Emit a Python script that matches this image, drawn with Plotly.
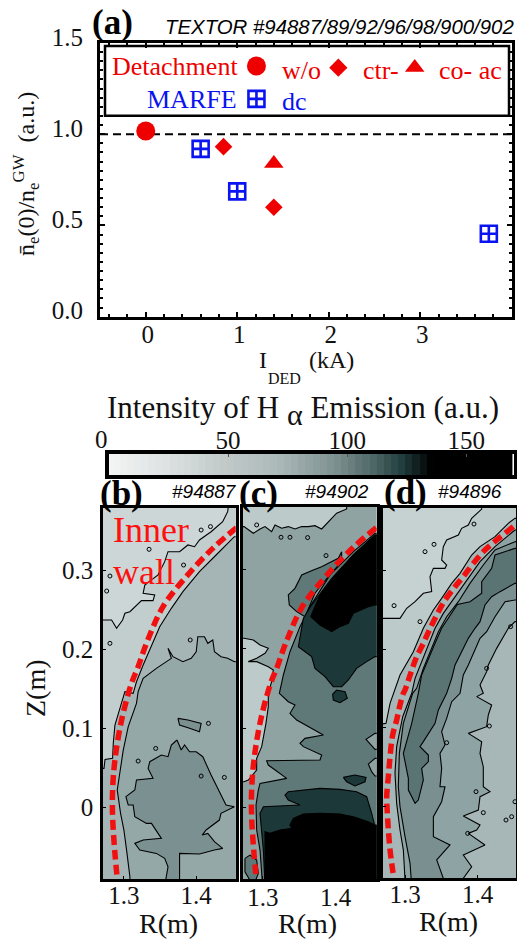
import plotly.graph_objects as go

W, H = 517, 939
SERIF = "Liberation Serif"
SANS = "Liberation Sans"
RED = "#ee0000"
BLUE = "#0a14f0"

# ---- panel (a) data ----
detach_wo_I = [0.0]
detach_wo_n = [1.018]
detach_ctr_I = [0.85, 1.40]
detach_ctr_n = [0.932, 0.60]
detach_co_I = [1.40]
detach_co_n = [0.84]
marfe_dc_I = [0.60, 1.00, 3.75]
marfe_dc_n = [0.92, 0.687, 0.455]
gw_limit_I = [-0.5, 4.0]
gw_limit_n = [1.0, 1.0]
a_xticks = [0, 1, 2, 3, 4]
a_yticks = [0.0, 0.5, 1.0, 1.5]
a_yticktext = ["0.0", "0.5", "1.0", "1.5"]

# ---- colour bar ----
bar_levels = list(range(0, 171, 3))
bar_colors = [[0, "#f4f4f4"], [0.14, "#dde2e2"], [0.29, "#c0c8c8"], [0.41, "#aebbbb"],
              [0.56, "#7d9090"], [0.65, "#4f6868"], [0.73, "#1f3a3a"], [0.795, "#000000"], [1, "#000000"]]
bar_ticks = [50, 100, 150]

# ---- inner wall traces ----
wall = [(1.4559, .3536), (1.4229, .3274), (1.3862, .2916), (1.3541, .2536), (1.3312, .2072), (1.3197, .1776),
        (1.3105, .1565), (1.2968, .1101), (1.2876, .0595), (1.2844, .0215), (1.2844, -.0123), (1.2876, -.0587),
        (1.2908, -.0903)]
wall_d = [(1.4490, .3549), (1.4261, .3380), (1.4100, .3253), (1.3940, .3084), (1.3802, .2916), (1.3688, .2789),
          (1.3550, .2620), (1.3436, .2430), (1.3335, .2240), (1.3252, .2072), (1.3151, .1882), (1.3078, .1692),
          (1.3000, .1481), (1.2977, .1439), (1.2931, .1291), (1.2885, .1101), (1.2830, .0911), (1.2794, .0637),
          (1.2771, .0384), (1.2748, .0131), (1.2757, -.0080), (1.2771, -.0291), (1.2794, -.0545), (1.2817, -.0713),
          (1.2840, -.0861)]

panel_rect = [(1.26, -.1), (1.47, -.1), (1.47, .39), (1.26, .39)]

# ---- panel (b) contour regions ----
b_l1 = [(1.4458, .39), (1.4435, .3739), (1.4366, .3612), (1.4206, .3485), (1.4045, .3380), (1.3977, .3295),
        (1.3885, .3317), (1.3770, .3232), (1.3610, .3232), (1.3564, .3106), (1.3472, .2937), (1.3289, .2810),
        (1.3266, .2705), (1.3426, .2684), (1.3403, .2612), (1.3243, .2612), (1.3083, .2473), (1.3014, .2452),
        (1.2982, .2367), (1.2899, .2262), (1.2830, .2367), (1.2725, .2367), (1.26, .2367), (1.26, -.1),
        (1.47, -.1), (1.47, .39)]
b_l2 = [(1.47, .3422), (1.4527, .3422), (1.4275, .3190), (1.4045, .2979), (1.3816, .2726), (1.3656, .2515),
        (1.3495, .2283), (1.3381, .2051), (1.3266, .1797), (1.3174, .1586), (1.3128, .1439), (1.3014, .1460),
        (1.2876, .1038), (1.2853, .0806), (1.2844, .0616), (1.2739, .0603), (1.2725, .0489), (1.26, .0489),
        (1.26, -.1), (1.47, -.1)]
b_l3 = [(1.47, .1840), (1.4527, .1840), (1.4435, .1882), (1.4343, .1903), (1.4252, .1966), (1.4229, .2114),
        (1.4160, .2072), (1.4114, .2156), (1.4022, .2156), (1.4000, .1966), (1.3931, .1882), (1.3816, .1840),
        (1.3679, .1903), (1.3610, .2008), (1.3656, .1882), (1.3449, .1755), (1.3266, .1629), (1.3197, .1460),
        (1.3174, .1312), (1.3060, .1017), (1.2991, .0721), (1.2945, .0468), (1.2908, .0215), (1.2954, -.0080),
        (1.3000, -.0291), (1.3037, -.0545), (1.3060, -.0713), (1.3083, -.0882), (1.3083, -.1), (1.47, -.1)]
b_core = [(1.3734, .0848), (1.3793, .0721), (1.3839, .0785), (1.3908, .0700), (1.4000, .0700), (1.4091, .0637),
          (1.4206, .0405), (1.4298, .0236), (1.4412, .0025), (1.4527, .0004), (1.4343, -.0080), (1.4320, -.0165),
          (1.4137, -.0291), (1.4082, -.0355), (1.4160, -.0334), (1.4252, -.0439), (1.4366, -.0523), (1.4252, -.0545),
          (1.4045, -.0595), (1.3770, -.0587), (1.3770, -.1), (1.3564, -.1), (1.3610, -.0756), (1.3564, -.0650),
          (1.3449, -.0587), (1.3220, -.0545), (1.3151, -.0460), (1.3266, -.0418), (1.3518, -.0397), (1.3381, -.0207),
          (1.3312, -.0207), (1.3151, -.0123), (1.3128, .0025), (1.3060, .0025), (1.3028, .0131), (1.3151, .0215),
          (1.3174, .0342), (1.3403, .0363), (1.3335, .0489), (1.3358, .0574), (1.3518, .0658), (1.3610, .0637),
          (1.3656, .0785)]
b_spot = [(1.3747, .1122), (1.3885, .1101), (1.4068, .1059), (1.4045, .0954), (1.3908, .0996), (1.3770, .1038)]
b_islands = [(1.3348, .3262), (1.3825, .3063), (1.4068, .3506), (1.4197, .3549), (1.2807, .2924), (1.2807, .2072),
             (1.3917, .2114), (1.2762, .2734), (1.3197, .0582), (1.3440, .0742), (1.4068, .0392), (1.4169, .1059),
             (1.4389, .0375)]

# ---- panel (c) contour regions ----
c_top = [(1.4151, .39), (1.4151, .3772), (1.4013, .3718), (1.3899, .3612), (1.3807, .3519), (1.3715, .3561),
         (1.3624, .3549), (1.3532, .3549), (1.3440, .3519), (1.3348, .3549), (1.3257, .3528), (1.3165, .3570),
         (1.3119, .3485), (1.3028, .3549), (1.2959, .3519), (1.2867, .3464), (1.2775, .3528), (1.2739, .3549),
         (1.26, .3549), (1.26, .39)]
c_left = [(1.26, .2135), (1.2739, .2135), (1.2867, .2114), (1.2959, .2051), (1.3073, .2008), (1.3028, .1945),
          (1.2913, .1882), (1.2798, .1840), (1.2913, .1840), (1.3073, .1776), (1.3142, .1734), (1.3119, .1586),
          (1.3073, .1439), (1.3073, .1270), (1.3041, .1059), (1.2982, .0764), (1.2913, .0616), (1.2913, .0468),
          (1.2798, .0342), (1.2739, .0320), (1.26, .0320)]
c_mid = [(1.47, .3464), (1.4541, .3464), (1.4243, .3232), (1.3922, .2937), (1.3646, .2536), (1.3509, .2283),
         (1.3371, .1966), (1.3280, .1671), (1.3225, .1439), (1.3348, .1333), (1.3440, .1291), (1.3371, .1186),
         (1.3463, .1101), (1.3784, .0932), (1.3830, .0911), (1.3578, .0869), (1.3509, .0806), (1.3555, .0764),
         (1.3807, .0658), (1.3784, .0595), (1.3050, .0586), (1.3073, .0531), (1.3326, .0363), (1.2959, .0299),
         (1.2936, .0215), (1.2904, .0025), (1.2913, -.0291), (1.2959, -.0545), (1.2995, -.1), (1.47, -.1)]
c_lobe = [(1.4082, .3232), (1.4036, .3148), (1.3899, .3084), (1.3807, .3042), (1.3692, .3000), (1.3532, .2937),
          (1.3440, .2768), (1.3348, .2684), (1.3362, .2557), (1.3463, .2473), (1.3578, .2409), (1.3715, .2705),
          (1.3899, .2916), (1.4082, .3106)]
c_right1 = [(1.47, .0932), (1.4541, .0932), (1.4417, .0856), (1.4541, .0730), (1.47, .0730)]
c_right2 = [(1.47, .0616), (1.4541, .0616), (1.4449, .0544), (1.4495, .0447), (1.4541, .0392), (1.47, .0392)]
c_corner = [(1.2752, -.0650), (1.2821, -.0608), (1.2913, -.0671), (1.2936, -.0840), (1.2867, -.1), (1.2752, -.0819)]
c_dark_up = [(1.47, .3443), (1.4541, .3443), (1.4243, .3190), (1.3945, .2895), (1.3669, .2557), (1.3555, .2388),
             (1.3486, .2029), (1.3669, .1903), (1.3715, .1755), (1.3853, .1650), (1.3967, .1523), (1.4082, .1523),
             (1.4174, .1608), (1.4288, .1755), (1.4426, .1840), (1.4541, .1903), (1.47, .1903)]
c_spot1 = [(1.3958, .1430), (1.4013, .1481), (1.4128, .1460), (1.4160, .1376), (1.4059, .1321), (1.3967, .1354)]
c_dark_low = [(1.47, -.0249), (1.4541, -.0249), (1.4495, -.0080), (1.4426, .0131), (1.4288, .0194), (1.4059, .0223),
              (1.3784, .0236), (1.3348, .0194), (1.3303, .0152), (1.3348, .0088), (1.3509, .0025), (1.3005, .0004),
              (1.2959, -.0080), (1.2982, -.0291), (1.3005, -.0545), (1.3028, -.1), (1.47, -.1)]
c_spot2 = [(1.4105, .0375), (1.4265, .0405), (1.4417, .0375), (1.4403, .0320), (1.4265, .0266), (1.4151, .0320)]
c_black_up = [(1.47, .3443), (1.4541, .3443), (1.4243, .3190), (1.3945, .2873), (1.3784, .2684), (1.3656, .2409),
              (1.3784, .2304), (1.3945, .2219), (1.4059, .2283), (1.4174, .2325), (1.4243, .2452), (1.4449, .2536),
              (1.4541, .2557), (1.47, .2557)]
c_black_low = [(1.47, -.0228), (1.4541, -.0228), (1.4449, -.0186), (1.4243, -.0123), (1.4059, -.0089), (1.3784, -.0080),
               (1.3555, -.0089), (1.3417, -.0144), (1.3371, -.0228), (1.3394, -.0270), (1.3234, -.0291), (1.3096, -.0333),
               (1.3028, -.0312), (1.3028, -.1), (1.47, -.1)]
c_islands = [(1.2913, .3570), (1.3248, .3414), (1.3371, .3414), (1.3614, .3410), (1.3867, .3182)]

# ---- panel (d) contour regions ----
d_l1 = [(1.4055, .39), (1.4055, .3772), (1.3917, .3654), (1.3871, .3570), (1.3779, .3528), (1.3734, .3443),
        (1.3573, .3380), (1.3527, .3296), (1.3504, .3127), (1.3573, .3063), (1.3550, .3021), (1.3390, .3021),
        (1.3344, .2916), (1.3367, .2726), (1.3252, .2705), (1.3138, .2599), (1.3023, .2515), (1.2931, .2388),
        (1.2725, .2388), (1.26, .2388), (1.26, -.1), (1.47, -.1), (1.47, .39)]
d_l2 = [(1.47, .3654), (1.4513, .3654), (1.4421, .3591), (1.4238, .3422), (1.4032, .3296), (1.3917, .3190),
        (1.3757, .2958), (1.3642, .2831), (1.3504, .2641), (1.3390, .2494), (1.3252, .2262), (1.3115, .1966),
        (1.2931, .1671), (1.2840, .1439), (1.2794, .1312), (1.2739, .1059), (1.26, .1038), (1.26, -.1), (1.47, -.1)]
d_l3 = [(1.4513, .3507), (1.4238, .3296), (1.4032, .3106), (1.3871, .2895), (1.3688, .2662), (1.3527, .2451),
        (1.3413, .2262), (1.3321, .2051), (1.3229, .1840), (1.3138, .1629), (1.3092, .1439), (1.2968, .1143),
        (1.2885, .0764), (1.2862, .0426), (1.2885, .0046), (1.2931, -.0291), (1.2977, -.0545), (1.3000, -.0861),
        (1.3005, -.1), (1.3802, -.1), (1.3802, -.0903), (1.3917, -.0756), (1.3802, -.0608), (1.4100, -.0481),
        (1.3871, -.0334), (1.3986, -.0291), (1.4032, -.0228), (1.3802, -.0114), (1.4009, -.0038), (1.4032, .0131),
        (1.4169, .0194), (1.4077, .0257), (1.4077, .0510), (1.4032, .0679), (1.4055, .0827), (1.3871, .0932),
        (1.4123, .1017), (1.4146, .1165), (1.4192, .1291), (1.3986, .1397), (1.4077, .1439), (1.4032, .1544),
        (1.4123, .1713), (1.4146, .1797), (1.4261, .2008), (1.4421, .2262), (1.4513, .2346), (1.47, .2346),
        (1.47, .3507)]
d_l4 = [(1.4513, .3359), (1.4238, .3253), (1.4077, .3063), (1.3894, .2831), (1.3734, .2599), (1.3573, .2409),
        (1.3459, .2219), (1.3367, .2008), (1.3252, .1755), (1.3160, .1502), (1.3105, .1439), (1.2977, .1059),
        (1.2922, .0679), (1.2908, .0257), (1.2931, .0004), (1.3000, -.0376), (1.3069, -.0713), (1.3092, -.1),
        (1.3527, -.1), (1.3527, -.0903), (1.3436, -.0671), (1.3619, -.0481), (1.3390, -.0376), (1.3390, -.0123),
        (1.3504, .0067), (1.3550, .0257), (1.3481, .0257), (1.3504, .0489), (1.3481, .0679), (1.3550, .0785),
        (1.3504, .0954), (1.3573, .1122), (1.3642, .1333), (1.3757, .1439), (1.3802, .1671), (1.3871, .1797),
        (1.4032, .2135), (1.4123, .2219), (1.4238, .2409), (1.4376, .2599), (1.4513, .2620), (1.47, .2620),
        (1.47, .3359)]
d_l5 = [(1.4513, .3274), (1.4238, .3190), (1.4192, .3021), (1.4055, .2852), (1.4055, .2705), (1.3894, .2599),
        (1.3720, .2565), (1.3596, .2388), (1.3504, .2262), (1.3413, .2072), (1.3321, .1882), (1.3229, .1671),
        (1.3183, .1439), (1.3092, .1059), (1.2977, .0679), (1.3046, .0363), (1.3046, .0215), (1.3138, .0046),
        (1.3183, .0088), (1.3229, .0257), (1.3252, .0342), (1.3229, .0489), (1.3321, .0574), (1.3321, .0658),
        (1.3206, .0764), (1.3252, .0827), (1.3413, .1059), (1.3459, .1228), (1.3573, .1439), (1.3642, .1629),
        (1.3688, .1797), (1.3757, .1924), (1.3871, .2135), (1.3963, .2262), (1.4032, .2346), (1.4100, .2557),
        (1.4192, .2662), (1.4307, .2726), (1.4513, .2831), (1.47, .2831), (1.47, .3274)]
d_islands = [(1.3573, .0814), (1.3977, .0194), (1.4077, -.0072), (1.3862, -.0334), (1.4467, -.0123), (1.4389, -.0165),
             (1.4513, .0067), (1.4160, .1025), (1.3949, .3582), (1.3399, .3325), (1.3275, .3232), (1.2849, .2549),
             (1.3206, .2346), (1.4123, .1755), (1.4453, .2283)]

r_ticks = [1.3, 1.4]
z_ticks = [0, 0.1, 0.2, 0.3]


def xdom(a, b):
    return [a / W, b / W]


def ydom(top, bottom):
    return [1 - bottom / H, 1 - top / H]


fig = go.Figure()


def region(pts, color, xa, ya, outline=True):
    fig.add_trace(go.Scatter(x=[p[0] for p in pts] + [pts[0][0]], y=[p[1] for p in pts] + [pts[0][1]],
                             xaxis=xa, yaxis=ya, mode="lines", fill="toself", fillcolor=color,
                             line=dict(color="#000000" if outline else color, width=1.1), hoverinfo="skip"))


def islands(pts, xa, ya):
    fig.add_trace(go.Scatter(x=[p[0] for p in pts], y=[p[1] for p in pts], xaxis=xa, yaxis=ya, mode="markers",
                             marker=dict(symbol="circle-open", size=4, color="#000000", line=dict(width=1)),
                             hoverinfo="skip"))


def wall_line(pts, xa, ya):
    fig.add_trace(go.Scatter(x=[p[0] for p in pts], y=[p[1] for p in pts], xaxis=xa, yaxis=ya, mode="lines",
                             line=dict(color="#f01010", width=5.5, dash="10px,5px", shape="spline"), hoverinfo="skip"))


def pts_trace(x, y, symbol, size, color, lw=0):
    fig.add_trace(go.Scatter(x=x, y=y, xaxis="x", yaxis="y", mode="markers",
                             marker=dict(symbol=symbol, size=size, color=color, line=dict(width=lw, color=color)),
                             hoverinfo="skip"))


# panel a
fig.add_trace(go.Scatter(x=gw_limit_I, y=gw_limit_n, xaxis="x", yaxis="y", mode="lines",
                         line=dict(color="#000000", width=2, dash="8px,5px"), hoverinfo="skip"))
pts_trace(detach_wo_I, detach_wo_n, "circle", 19, RED)
pts_trace(detach_ctr_I, detach_ctr_n, "diamond", 13.5, RED)
pts_trace(detach_co_I, detach_co_n, "triangle-up", 17, RED)
pts_trace(marfe_dc_I, marfe_dc_n, "square-cross-open", 16, BLUE, 2.6)
# legend keys
pts_trace([1.21], [1.374], "circle", 19, RED)
pts_trace([2.105], [1.365], "diamond", 14, RED)
pts_trace([2.94], [1.366], "triangle-up", 17, RED)
pts_trace([1.21], [1.194], "square-cross-open", 16, BLUE, 2.6)

# colour bar
fig.add_trace(go.Heatmap(x=bar_levels, y=[0], z=[bar_levels], xaxis="x2", yaxis="y2", zmin=0, zmax=170,
                         colorscale=bar_colors, showscale=False, hoverinfo="skip"))

# panel b
region(panel_rect, "#ccd6d6", "x3", "y3", False)
region(b_l1, "#c2cdcd", "x3", "y3")
region(b_l2, "#a5b5b5", "x3", "y3")
region(b_l3, "#95a8a8", "x3", "y3")
region(b_core, "#7b9090", "x3", "y3")
region(b_spot, "#7b9090", "x3", "y3")
islands(b_islands, "x3", "y3")
wall_line(wall, "x3", "y3")

# panel c
region(panel_rect, "#8fa3a3", "x4", "y4", False)
region(c_top, "#bccaca", "x4", "y4")
region(c_left, "#bccaca", "x4", "y4")
region(c_mid, "#5f7878", "x4", "y4")
region(c_lobe, "#5f7878", "x4", "y4")
region(c_right1, "#8fa3a3", "x4", "y4")
region(c_right2, "#8fa3a3", "x4", "y4")
region(c_corner, "#5f7878", "x4", "y4")
region(c_dark_up, "#1c3838", "x4", "y4")
region(c_spot1, "#1c3838", "x4", "y4")
region(c_dark_low, "#1c3838", "x4", "y4")
region(c_spot2, "#1c3838", "x4", "y4")
region(c_black_up, "#000000", "x4", "y4")
region(c_black_low, "#000000", "x4", "y4")
islands(c_islands, "x4", "y4")
wall_line(wall, "x4", "y4")

# panel d
region(panel_rect, "#c6d2d2", "x5", "y5", False)
region(d_l1, "#bccaca", "x5", "y5")
region(d_l2, "#a7b7b7", "x5", "y5")
region(d_l3, "#8ea3a3", "x5", "y5")
region(d_l4, "#7a9090", "x5", "y5")
region(d_l5, "#5a7474", "x5", "y5")
islands(d_islands, "x5", "y5")
wall_line(wall_d, "x5", "y5")

tick_font = dict(family=SERIF, size=25, color="#111111")
panel_axis = dict(showgrid=False, zeroline=False, mirror=True, showline=True, linecolor="#000000", linewidth=2.5,
                  ticks="inside", ticklen=3, tickwidth=1, tickcolor="#000000", tickfont=tick_font, automargin=False)

layout = dict(
    template="none",
    width=W, height=H, margin=dict(l=0, r=0, t=0, b=0), autosize=False, showlegend=False,
    paper_bgcolor="white", plot_bgcolor="white",
    xaxis=dict(domain=xdom(100, 511.7), range=[-0.5, 4], showgrid=False, zeroline=False, mirror="ticks", showline=True,
               linecolor="#000000", linewidth=3, ticks="inside", ticklen=5, tickwidth=2, tickcolor="#000000",
               tickvals=a_xticks, ticktext=[str(v) for v in a_xticks], tickfont=tick_font, ticklabelstandoff=-7,
               ticklabelshift=2, automargin=False,
               minor=dict(dtick=0.2, ticks="inside", ticklen=3, tickwidth=1.5, tickcolor="#000000")),
    yaxis=dict(domain=ydom(43, 316.7), range=[0, 1.5], showgrid=False, zeroline=False, mirror="ticks", showline=True,
               linecolor="#000000", linewidth=3, ticks="inside", ticklen=5, tickwidth=2, tickcolor="#000000",
               tickvals=a_yticks, ticktext=a_yticktext, tickfont=tick_font, ticklabelstandoff=9, ticklabelshift=-6,
               automargin=False,
               minor=dict(dtick=0.05, ticks="inside", ticklen=3, tickwidth=1.5, tickcolor="#000000")),
    xaxis2=dict(domain=xdom(109, 514), range=[0, 170], side="top", anchor="y2", showgrid=False, zeroline=False,
                mirror=True, showline=True, linecolor="#000000", linewidth=3.5, ticks="inside", ticklen=3, tickwidth=1,
                tickcolor="#555555", tickvals=bar_ticks, ticktext=[str(v) for v in bar_ticks], tickfont=tick_font,
                ticklabelstandoff=-9, automargin=False),
    yaxis2=dict(domain=ydom(454, 475), range=[-0.5, 0.5], anchor="x2", showgrid=False, zeroline=False, mirror=True,
                showline=True, linecolor="#000000", linewidth=3.5, ticks="", showticklabels=False, automargin=False),
    xaxis3=dict(panel_axis, domain=xdom(103, 235.7), range=[1.2711, 1.4546], anchor="y3", tickvals=r_ticks,
                ticktext=["1.3", "1.4"], ticklabelstandoff=-8),
    yaxis3=dict(panel_axis, domain=ydom(508, 879), range=[-.0911, .3785], anchor="x3", tickvals=z_ticks,
                ticktext=["0", "0.1", "0.2", "0.3"], ticklabelstandoff=2),
    xaxis4=dict(panel_axis, domain=xdom(243, 376.7), range=[1.2725, 1.4564], anchor="y4", tickvals=r_ticks,
                ticktext=["1.3", "1.4"], ticklabelstandoff=-6),
    yaxis4=dict(panel_axis, domain=ydom(507, 879), range=[-.0911, .3797], anchor="x4", tickvals=z_ticks,
                showticklabels=False),
    xaxis5=dict(panel_axis, domain=xdom(383, 516), range=[1.2697, 1.4527], anchor="y5", tickvals=r_ticks,
                ticktext=["1.3", "1.4"], ticklabelstandoff=-8),
    yaxis5=dict(panel_axis, domain=ydom(508, 878), range=[-.0899, .3785], anchor="x5", tickvals=z_ticks,
                showticklabels=False),
)
fig.update_layout(**layout)

# legend box of panel (a)
fig.add_shape(type="rect", xref="paper", yref="paper", x0=105 / W, x1=509 / W, y0=1 - 115.7 / H, y1=1 - 46 / H,
              line=dict(color="#000000", width=2.5), fillcolor="white", layer="below")


def label(text, x, y, size, color="#111111", family=SERIF, anchor="center", angle=0, bold=False):
    body = f"<b>{text}</b>" if bold else text
    fig.add_annotation(text=body, x=x / W, y=1 - y / H, xref="paper", yref="paper", showarrow=False,
                       xanchor=anchor, yanchor="middle", textangle=angle,
                       font=dict(family=family, size=size, color=color), borderpad=0, borderwidth=0)


label("(a)", 112, 22, 35, "#000000", bold=True)
label("<i>TEXTOR #94887/89/92/96/98/900/902</i>", 339, 27, 20.4, "#000000", SANS)
label("Detachment", 112, 67, 26, RED, anchor="left")
label("w/o", 282, 70, 26, RED, anchor="left")
label("ctr-", 363, 70, 26, RED, anchor="left")
label("co- ac", 439, 70, 26, RED, anchor="left")
label("MARFE", 147, 100, 26, BLUE, anchor="left")
label("dc", 282, 101, 26, BLUE, anchor="left")
label("n\u0304<sub>e</sub>(0)/n<sub>e</sub><sup>GW</sup>  (a.u.)", 26, 174, 24, angle=-90)
label("I", 263, 360, 24)
label("DED", 284, 379, 16)
label("(kA)", 331, 360, 24)
label("Intensity of H <sub><span style=\"font-size:30px\">\u03b1</span></sub> Emission (a.u.)", 303, 410, 31)
label("0", 101, 440, 25)
label("(b)", 121, 493, 35, "#000000", bold=True)
label("(c)", 258, 493, 35, "#000000", bold=True)
label("(d)", 405, 492, 35, "#000000", bold=True)
label("<i>#94887</i>", 204, 491, 19, "#000000", SANS)
label("<i>#94902</i>", 337, 491, 19, "#000000", SANS)
label("<i>#94896</i>", 470, 491, 19, "#000000", SANS)
label("Inner", 113, 530, 36, "#ff1010", anchor="left")
label("wall", 113, 572, 36, "#ff1010", anchor="left")
label("Z(m)", 35, 688, 28, angle=-90)
label("R(m)", 168, 923, 28)
label("R(m)", 307, 923, 28)
label("R(m)", 448, 921, 28)

fig.write_html("out.html", config={"displayModeBar": False},
               post_script="document.body.style.margin='0';document.body.style.overflow='hidden';")
